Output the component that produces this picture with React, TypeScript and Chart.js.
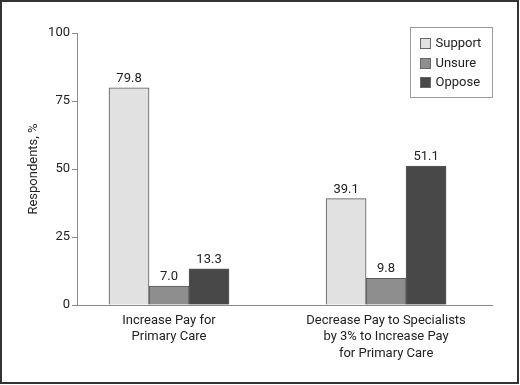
import React, { useEffect, useRef } from "react";
import { Chart, registerables } from "chart.js";

Chart.register(...registerables);

const categories: string[][] = [
  ["Increase Pay for", "Primary Care"],
  ["Decrease Pay to Specialists", "by 3% to Increase Pay", "for Primary Care"],
];
const categoryPositions = [0, 1];
const seriesNames = ["Support", "Unsure", "Oppose"];
const support = [79.8, 39.1];
const unsure = [7.0, 9.8];
const oppose = [13.3, 51.1];
const seriesColors = ["#e1e1e1", "#8e8e8e", "#484848"];
const yTicks = [0, 25, 50, 75, 100];

const FONT = "Roboto, 'Liberation Sans', sans-serif";
const FS = 13;
const TEXT = "#222222";
const AXIS = "#8a8a8a";

const valueLabels = {
  id: "valueLabels",
  afterDatasetsDraw(chart: any) {
    const ctx = chart.ctx;
    ctx.save();
    ctx.font = `${FS}px ${FONT}`;
    ctx.fillStyle = TEXT;
    ctx.textAlign = "center";
    ctx.textBaseline = "alphabetic";
    chart.data.datasets.forEach((ds: any, di: number) => {
      chart.getDatasetMeta(di).data.forEach((el: any, i: number) => {
        const v = ds.data[i].y as number;
        ctx.fillText(v.toFixed(1), el.x, el.y - 6);
      });
    });
    ctx.restore();
  },
};

const boxLegend = {
  id: "boxLegend",
  afterDraw(chart: any) {
    const ctx = chart.ctx;
    const area = chart.chartArea;
    const w = 82;
    const h = 70;
    const left = Math.round(area.right - w) + 0.5;
    const top = Math.round(area.top - 6) + 0.5;
    ctx.save();
    ctx.strokeStyle = "#9a9a9a";
    ctx.lineWidth = 1;
    ctx.strokeRect(left, top, w, h);
    ctx.font = `${FS}px ${FONT}`;
    ctx.textAlign = "left";
    ctx.textBaseline = "middle";
    chart.data.datasets.forEach((ds: any, i: number) => {
      const cy = top + 15.5 + i * 19.5;
      ctx.fillStyle = ds.backgroundColor;
      ctx.fillRect(left + 10, Math.round(cy - 5), 10, 10);
      ctx.strokeStyle = "#666666";
      ctx.strokeRect(left + 10, Math.round(cy - 5) + 0.5, 10, 10);
      ctx.fillStyle = TEXT;
      ctx.fillText(ds.label, left + 25, cy + 1);
    });
    ctx.restore();
  },
};

const outerBorder = {
  id: "outerBorder",
  afterDraw(chart: any) {
    const ctx = chart.ctx;
    ctx.save();
    ctx.strokeStyle = "#333333";
    ctx.lineWidth = 2;
    ctx.strokeRect(1, 1, 517, 382);
    ctx.restore();
  },
};

export default function App() {
  const ref = useRef<HTMLCanvasElement | null>(null);

  useEffect(() => {
    document.body.style.margin = "0";
    const canvas = ref.current;
    if (!canvas) return;
    const series = [support, unsure, oppose];
    const chart = new Chart(canvas, {
      type: "bar",
      data: {
        datasets: series.map((vals, si) => ({
          label: seriesNames[si],
          data: vals.map((y, i) => ({ x: categoryPositions[i], y })),
          backgroundColor: seriesColors[si],
          borderColor: "#5a5a5a",
          borderWidth: 1,
          barThickness: 40,
        })),
      },
      options: {
        animation: false,
        responsive: false,
        devicePixelRatio: 1,
        layout: { padding: { left: 0, top: 33, right: 28, bottom: 0 } },
        plugins: {
          legend: { display: false },
          tooltip: { enabled: false },
        },
        scales: {
          x: {
            type: "linear",
            offset: false,
            min: -0.424,
            max: 1.488,
            afterBuildTicks: (s: any) => {
              s.ticks = categoryPositions.map((v) => ({ value: v }));
            },
            afterFit: (s: any) => {
              s.height = 80;
            },
            grid: { display: false, drawTicks: false, offset: false },
            border: { display: true, color: AXIS, width: 1 },
            ticks: {
              callback: (_v: any, i: number) => categories[i],
              font: { family: FONT, size: FS, lineHeight: 1.27 },
              color: TEXT,
              padding: 7,
              maxRotation: 0,
              autoSkip: false,
            },
          },
          y: {
            min: 0,
            max: 100,
            afterBuildTicks: (s: any) => {
              s.ticks = yTicks.map((v) => ({ value: v }));
            },
            afterFit: (s: any) => {
              s.width = 77;
            },
            grid: { drawOnChartArea: false, drawTicks: true, tickLength: 5, color: AXIS },
            border: { display: true, color: AXIS, width: 1 },
            ticks: { font: { family: FONT, size: FS }, color: TEXT, padding: 2 },
            title: {
              display: true,
              text: "Respondents, %",
              font: { family: FONT, size: FS },
              color: TEXT,
              padding: { top: 26, bottom: 0 },
            },
          },
        },
      },
      plugins: [valueLabels, boxLegend, outerBorder],
    } as any);
    return () => chart.destroy();
  }, []);

  return (
    <div style={{ width: 520, height: 385 }}>
      <canvas ref={ref} width={520} height={385} style={{ display: "block" }} />
    </div>
  );
}
